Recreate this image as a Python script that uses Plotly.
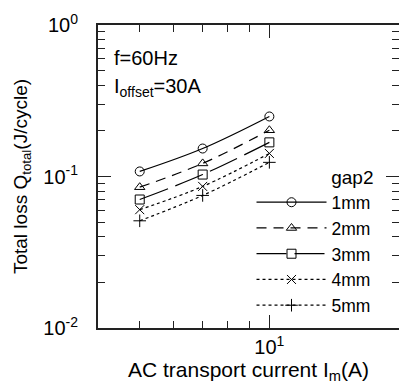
import plotly.graph_objects as go

current = [5, 7, 10]
gaps = ["1mm", "2mm", "3mm", "4mm", "5mm"]
q_total = {
    "1mm": [0.108, 0.153, 0.249],
    "2mm": [0.085, 0.122, 0.202],
    "3mm": [0.0705, 0.103, 0.168],
    "4mm": [0.0604, 0.086, 0.142],
    "5mm": [0.051, 0.075, 0.124],
}
symbols = ["circle-open", "triangle-up-open", "square-open", "x-thin-open", "cross-thin-open"]
dashes = ["solid", "10px,7px", "30px,8px", "3px,3px", "3px,3px"]
y_tickvals = [0.01, 0.1, 1]
y_ticktext = ["10<sup>-2</sup>", "10<sup>-1</sup>", "10<sup>0</sup>"]
y_minor = [0.02, 0.03, 0.04, 0.05, 0.06, 0.07, 0.08, 0.09,
           0.2, 0.3, 0.4, 0.5, 0.6, 0.7, 0.8, 0.9]
x_tickvals = [10]
x_ticktext = ["10<sup>1</sup>"]
x_minor = [5, 6, 7, 8, 9, 20]

FONT = "Liberation Sans, Arial, sans-serif"
fig = go.Figure()
for g, sym, d in zip(gaps, symbols, dashes):
    fig.add_trace(go.Scatter(
        x=current, y=q_total[g], name=g, mode="lines+markers",
        line=dict(color="black", width=1.2, dash=d, shape="spline"),
        marker=dict(symbol=sym, size=9, color="black", line=dict(width=1, color="black")),
    ))

axis_common = dict(
    type="log", showgrid=False, zeroline=False, showline=True, linecolor="#222",
    linewidth=2, mirror="ticks", ticks="inside", tickcolor="#222", tickwidth=1,
    ticklen=13, tickfont=dict(family=FONT, size=20, color="black"), automargin=False,
)
fig.update_xaxes(**axis_common, range=[0.60206, 1.30103], tickmode="array",
                 tickvals=x_tickvals, ticktext=x_ticktext,
                 minor=dict(ticks="inside", ticklen=7, tickcolor="#222", tickwidth=1,
                            tickmode="array", tickvals=x_minor, showgrid=False),
                 title=dict(text="AC transport current I<sub>m</sub>(A)",
                            font=dict(family=FONT, size=21, color="black"), standoff=0))
fig.update_yaxes(**axis_common, range=[-2, 0], tickmode="array",
                 tickvals=y_tickvals, ticktext=y_ticktext, ticklabelstandoff=14,
                 minor=dict(ticks="inside", ticklen=7, tickcolor="#222", tickwidth=1,
                            tickmode="array", tickvals=y_minor, showgrid=False),
                 title=dict(text="Total loss Q<sub>total</sub>(J/cycle)",
                            font=dict(family=FONT, size=19, color="black"), standoff=11))

fig.add_annotation(x=0.045, y=0.89, xref="paper", yref="paper", xanchor="left", yanchor="middle",
                   text="f=60Hz", showarrow=False, font=dict(family=FONT, size=20, color="black"))
fig.add_annotation(x=0.045, y=0.795, xref="paper", yref="paper", xanchor="left", yanchor="middle",
                   text="I<sub>offset</sub>=30A", showarrow=False, font=dict(family=FONT, size=20, color="black"))

fig.update_layout(
    width=399, height=385,
    margin=dict(l=98, r=0, t=25, b=57),
    plot_bgcolor="white", paper_bgcolor="white",
    font=dict(family=FONT, size=20, color="black"),
    legend=dict(x=0.51, y=0.285, xanchor="left", yanchor="middle",
                title=dict(text="gap2", side="top right", font=dict(family=FONT, size=19)),
                font=dict(family=FONT, size=17.5), bgcolor="rgba(0,0,0,0)",
                itemwidth=70, tracegroupgap=0),
    showlegend=True,
)
fig.write_html("out.html", config={"displayModeBar": False},
               post_script="document.body.style.margin='0px';")
